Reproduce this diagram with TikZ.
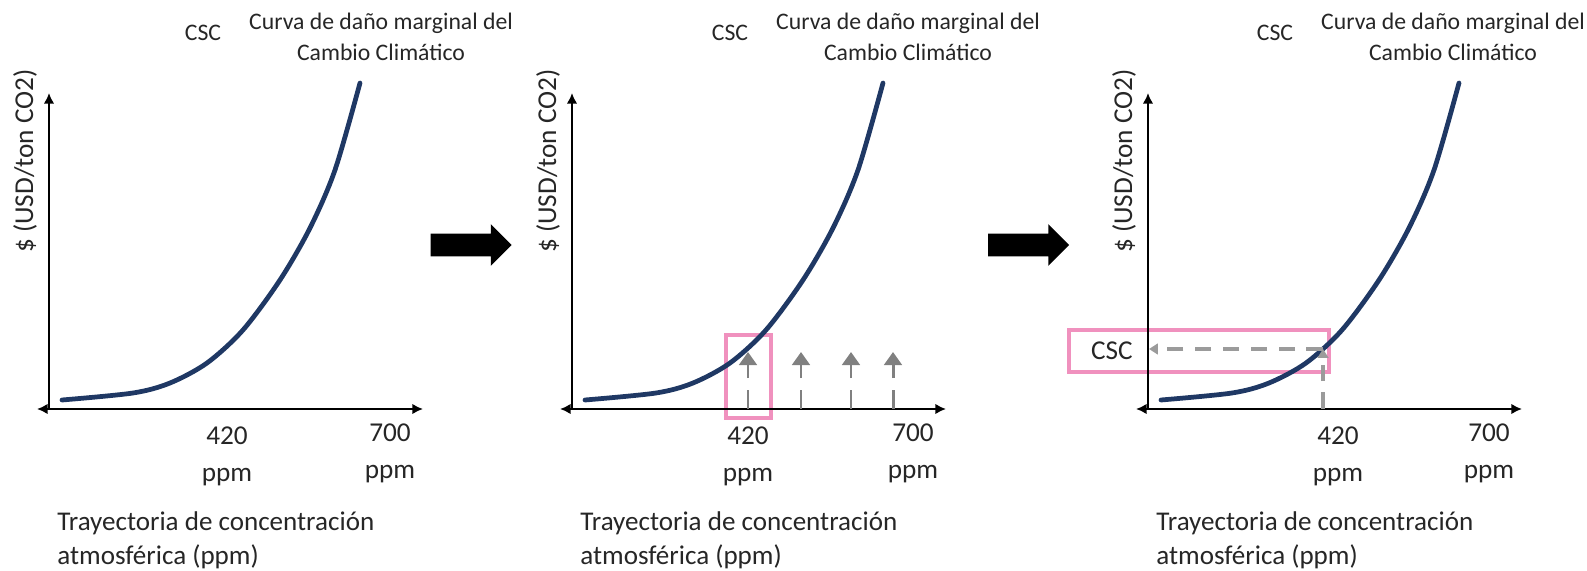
\documentclass[tikz,border=0pt]{standalone}
\usepackage{fontspec}
\setmainfont{Carlito}
\usetikzlibrary{arrows.meta,shapes.arrows}
\definecolor{dmgblue}{RGB}{31,56,100}
\definecolor{hilite}{RGB}{240,145,190}
\definecolor{guide}{RGB}{155,155,155}
\begin{document}
\begin{tikzpicture}[
    x=0.02cm, y=-0.02cm,
    >={Latex[length=6pt,width=6pt]},
    every node/.style={text=black!85, inner sep=0pt},
    axis/.style={line width=1.6pt},
    damage/.style={line width=2.7pt, draw=dmgblue, line cap=round},
    toplabel/.style={font=\fontsize{13.5}{17.6}\selectfont, align=center},
    ticklabel/.style={font=\fontsize{15.5}{21.5}\selectfont, align=center, anchor=north},
    xlabel/.style={font=\fontsize{15.4}{19.5}\selectfont, align=left, anchor=north west},
    ylabel/.style={font=\fontsize{15.5}{18}\selectfont, rotate=90},
    nextstep/.style={single arrow, fill=black, minimum height=1.62cm,
      inner xsep=0pt, inner ysep=0.22cm, single arrow head extend=0.19cm,
      single arrow head indent=0pt},
    shock/.style={-{Triangle[length=7.4pt,width=10pt]}, line width=1.7pt,
      gray, dash pattern=on 10.8pt off 6.8pt},
    readoff/.style={-{Triangle[length=5pt,width=6pt]}, line width=2pt,
      guide, dash pattern=on 9.4pt off 6.5pt},
    focus/.style={draw=hilite, line width=2.3pt}]

  \useasboundingbox (0,0) rectangle (1587,571);

  % highlight boxes (under the curves)
  \draw[focus] (726,335) rectangle (771,418);
  \draw[focus] (1069,330) rectangle (1329,372);

  % three panels, same axes and curve
  \foreach \p/\dx/\tx/\nx in {1/0/0/227, 2/523/4/225, 3/1099/-27/239}{
    \begin{scope}[shift={(\dx,0)}]
      \coordinate (O\p) at (49,409);
      \coordinate (Y\p) at (49,93);
      \coordinate (L\p) at (37,409);
      \coordinate (R\p) at (423,409);
      \draw[axis,->] (O\p) -- (Y\p);
      \draw[axis,<->] (L\p) -- (R\p);
      \draw[damage] plot[smooth] coordinates {(62,400) (133,393) (170,383)
        (207,363) (243,330) (280,280) (310,228) (335,170) (360,83)};
      \node[toplabel] (csc\p) at ({203+(\tx)},33) {CSC};
      \node[toplabel] (curve\p) at ({381+(\tx)},36.5)
        {Curva de daño marginal del\\Cambio Climático};
      \node[ylabel] (usd\p) at (25,161) {\$ (USD/ton CO2)};
      \node[ticklabel] (low\p) at (\nx,426) {420\\ppm};
      \node[ticklabel] (high\p) at (390,423) {700\\ppm};
      \node[xlabel] (traj\p) at (57,511)
        {Trayectoria de concentración\\atmosférica (ppm)};
    \end{scope}
  }

  % panel 2: shifts along the trajectory
  \foreach \ax in {748,801,851,893}{
    \coordinate (s\ax) at (\ax,409);
    \coordinate (e\ax) at (\ax,352);
    \draw[shock] (s\ax) -- (e\ax);
  }

  % panel 3: reading off the CSC
  \node[font=\fontsize{15.5}{18}\selectfont] (cscval) at (1112,351) {CSC};
  \coordinate (foot) at (1323,409);
  \coordinate (hit) at (1323,349);
  \coordinate (yhit) at (1149,349);
  \draw[readoff] (foot) -- (hit);
  \draw[readoff] (hit) -- (yhit);

  % steps between panels
  \node[nextstep] (go1) at (465.5,245) {};
  \node[nextstep] (go2) at (1023,245) {};
\end{tikzpicture}
\end{document}
